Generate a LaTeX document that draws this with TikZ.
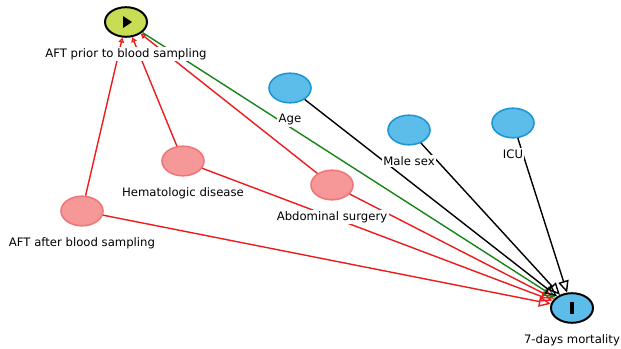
\documentclass[tikz,border=0pt]{standalone}
\usepackage{fontspec}
\setmainfont{DejaVu Sans}
\usetikzlibrary{shapes, arrows.meta, positioning, calc}
\definecolor{adjblue}{RGB}{92, 189, 234}
\definecolor{adjblueline}{RGB}{28, 150, 210}
\definecolor{ancpink}{RGB}{246, 152, 152}
\definecolor{ancpinkline}{RGB}{238, 118, 118}
\definecolor{expolime}{RGB}{200, 220, 84}
\definecolor{biasred}{RGB}{236, 28, 28}
\definecolor{causalgreen}{RGB}{24, 132, 24}
\tikzset{
  varnode/.style={ellipse, draw, line width=1.1pt, minimum width=1.05cm, minimum height=0.74cm, inner sep=0pt},
  adjnode/.style={varnode, fill=adjblue, draw=adjblueline},
  ancnode/.style={varnode, fill=ancpink, draw=ancpinkline},
  exponode/.style={varnode, fill=expolime, draw=black, line width=1.4pt},
  outnode/.style={varnode, fill=adjblue, draw=black, line width=1.4pt},
  varlabel/.style={fill=white, inner sep=1pt, font=\fontsize{8.3}{9.5}\selectfont},
  bigtip/.style={-{Triangle[open, length=8.5pt, width=7.5pt]}},
  smalltip/.style={-{Triangle[open, length=3.5pt, width=4pt]}},
  redarrow/.style={bigtip, biasred, line width=1pt},
  redinarrow/.style={smalltip, biasred, line width=1pt},
  greenarrow/.style={bigtip, causalgreen, line width=1pt},
  blackarrow/.style={bigtip, black, line width=1pt},
}
\begin{document}
\begin{tikzpicture}[x=0.025cm, y=-0.025cm]
  \useasboundingbox (0,0) rectangle (621,349);
  % variables
  \node[exponode] (expo) at (126,22) {};
  \node[outnode] (mort) at (572,308) {};
  \node[adjnode] (age) at (290,88) {};
  \node[adjnode] (male) at (409,130) {};
  \node[adjnode] (icu) at (513,123) {};
  \node[ancnode] (abdo) at (332,185) {};
  \node[ancnode] (hema) at (183,161) {};
  \node[ancnode] (aftafter) at (82,211) {};
  % icons
  \fill ($(expo)+(-3,-6)$) -- ($(expo)+(-3,6)$) -- ($(expo)+(6,0)$) -- cycle;
  \fill ($(mort)+(-2,-6)$) rectangle ($(mort)+(2,6)$);
  % arrows into exposure
  \draw[redinarrow] (aftafter) -- (expo);
  \draw[redinarrow] (hema) -- (expo);
  \draw[redinarrow] (abdo) -- (expo);
  % arrows into outcome
  \draw[redarrow] (aftafter) -- (mort);
  \draw[redarrow] (hema) -- (mort);
  \draw[redarrow] (abdo) -- (mort);
  \draw[greenarrow] (expo) -- (mort);
  \draw[blackarrow] (age) -- (mort);
  \draw[blackarrow] (male) -- (mort);
  \draw[blackarrow] (icu) -- (mort);
  % labels
  \node[varlabel, below=6.5pt of expo] (expolbl) {AFT prior to blood sampling};
  \node[varlabel, below=6.5pt of mort] (mortlbl) {7-days mortality};
  \node[varlabel, below=6.5pt of age] (agelbl) {Age};
  \node[varlabel, below=6.5pt of male] (malelbl) {Male sex};
  \node[varlabel, below=6.5pt of icu] (iculbl) {ICU};
  \node[varlabel, below=6.5pt of abdo] (abdolbl) {Abdominal surgery};
  \node[varlabel, below=6.5pt of hema] (hemalbl) {Hematologic disease};
  \node[varlabel, below=6.5pt of aftafter] (aftafterlbl) {AFT after blood sampling};
\end{tikzpicture}
\end{document}
